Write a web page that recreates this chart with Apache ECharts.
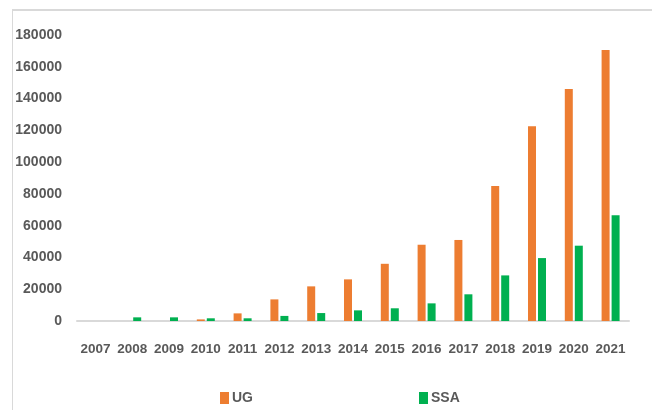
<!DOCTYPE html>
<html>
<head>
<meta charset="utf-8">
<script src="https://cdn.jsdelivr.net/npm/echarts@6/dist/echarts.min.js"></script>
<style>
  html, body { margin: 0; padding: 0; background: #ffffff; }
  #chart { width: 652px; height: 410px; }
</style>
</head>
<body>
<div id="chart"></div>
<script>
// Yearly counts, 2007–2021
const years = ['2007', '2008', '2009', '2010', '2011', '2012', '2013', '2014',
               '2015', '2016', '2017', '2018', '2019', '2020', '2021'];
const ugValues  = [0, 0, 0, 1000, 4800, 13600, 21800, 26200, 36000, 48000, 51000, 85000, 122500, 146000, 170500];
const ssaValues = [0, 2300, 2300, 1700, 1700, 3200, 5000, 6700, 8000, 11100, 16800, 28700, 39600, 47400, 66500];
const seriesNames = ['UG', 'SSA'];
const seriesColors = ['#ED7D31', '#00B050'];

const labelFont = '"Liberation Sans", Arial, sans-serif';
const textColor = '#595959';
const chart = echarts.init(document.getElementById('chart'), null, { renderer: 'canvas' });

chart.setOption({
  animation: false,
  backgroundColor: '#ffffff',
  grid: { left: 77, right: 23, top: 35, bottom: 89, containLabel: false },
  graphic: [
    { type: 'line', shape: { x1: 12, y1: 10, x2: 652, y2: 10 },
      style: { stroke: '#d9d9d9', lineWidth: 2 } },
    { type: 'line', shape: { x1: 12.5, y1: 10, x2: 12.5, y2: 410 },
      style: { stroke: '#d9d9d9', lineWidth: 1 } }
  ],
  legend: {
    data: seriesNames,
    left: 220,
    top: 391,
    padding: 0,
    itemWidth: 9,
    itemHeight: 12,
    itemGap: 166,
    icon: 'rect',
    textStyle: { color: textColor, fontSize: 14, fontWeight: 'bold', fontFamily: labelFont, padding: [0, 0, 0, -2] }
  },
  xAxis: {
    type: 'category',
    data: years,
    axisLine: { lineStyle: { color: '#d9d9d9', width: 2 } },
    axisTick: { show: false },
    axisLabel: { color: textColor, fontSize: 13.5, fontWeight: 'bold', fontFamily: labelFont, margin: 21, interval: 0 }
  },
  yAxis: {
    type: 'value',
    min: 0,
    max: 180000,
    interval: 20000,
    axisLine: { show: false },
    axisTick: { show: false },
    splitLine: { show: false },
    axisLabel: {
      color: textColor, fontSize: 14, fontWeight: 'bold', fontFamily: labelFont, margin: 15,
      formatter: function (v) { return String(v); }
    }
  },
  series: [
    { name: seriesNames[0], type: 'bar', data: ugValues, barWidth: 8, barGap: '25%',
      itemStyle: { color: seriesColors[0] } },
    { name: seriesNames[1], type: 'bar', data: ssaValues, barWidth: 8, barGap: '25%',
      itemStyle: { color: seriesColors[1] } }
  ]
});
</script>
</body>
</html>
